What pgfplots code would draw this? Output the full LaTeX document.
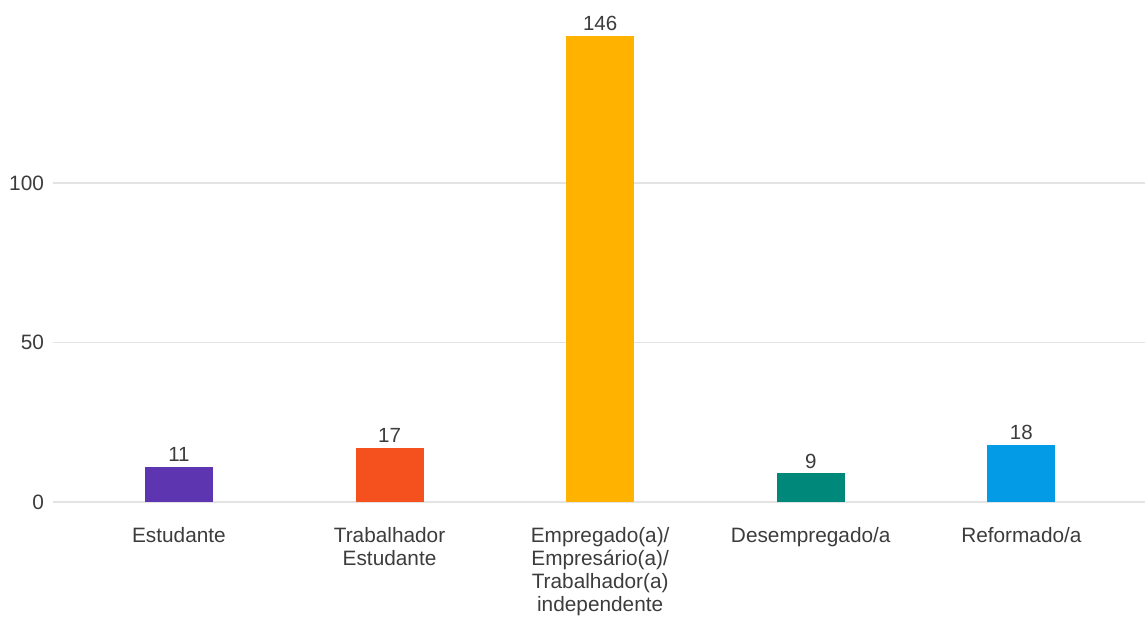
\documentclass[border=0pt]{standalone}
\usepackage{pgfplots}
\pgfplotsset{compat=1.18}
\usepackage{fontspec}
\setmainfont{Liberation Sans}
\definecolor{cPurple}{HTML}{5E35B1}
\definecolor{cOrange}{HTML}{F4511E}
\definecolor{cAmber}{HTML}{FFB300}
\definecolor{cTeal}{HTML}{00897B}
\definecolor{cBlue}{HTML}{039BE5}
\definecolor{cGrid}{HTML}{E3E3E3}
\definecolor{cText}{HTML}{3C3C3C}
\begin{document}
\begin{tikzpicture}
\path[use as bounding box] (-26.5pt,-59.5pt) rectangle (546pt,251pt);
\begin{axis}[
  at={(0,0)}, anchor=south west,
  scale only axis,
  width=546pt, height=239.25pt,
  xmin=-0.598, xmax=4.587,
  ymin=0, ymax=150,
  axis line style={draw=none},
  ytick={0,50,100},
  ymajorgrids, grid style={cGrid, line width=0.6pt},
  major tick length=0pt,
  xtick={0,1,2,3,4},
  xticklabels={Estudante,{Trabalhador\\Estudante},{Empregado(a)/\\Empresário(a)/\\Trabalhador(a)\\independente},Desempregado/a,Reformado/a},
  x tick label style={align=center, font=\fontsize{10.4pt}{11.6pt}\selectfont, text=cText, anchor=north, yshift=-9pt},
  y tick label style={font=\fontsize{10.4pt}{11.6pt}\selectfont, text=cText, xshift=-1pt},
  /pgf/number format/assume math mode=true,
  ybar, bar width=34pt,
  every axis plot/.append style={bar shift=0pt, draw=none},
  nodes near coords,
  every node near coord/.append style={font=\fontsize{10.25pt}{11.5pt}\selectfont, text=cText, yshift=-1pt},
  clip=false,
]
\addplot[fill=cPurple] coordinates {(0,11)};
\addplot[fill=cOrange] coordinates {(1,17)};
\addplot[fill=cAmber] coordinates {(2,146)};
\addplot[fill=cTeal] coordinates {(3,9)};
\addplot[fill=cBlue] coordinates {(4,18)};
\end{axis}
\end{tikzpicture}
\end{document}
